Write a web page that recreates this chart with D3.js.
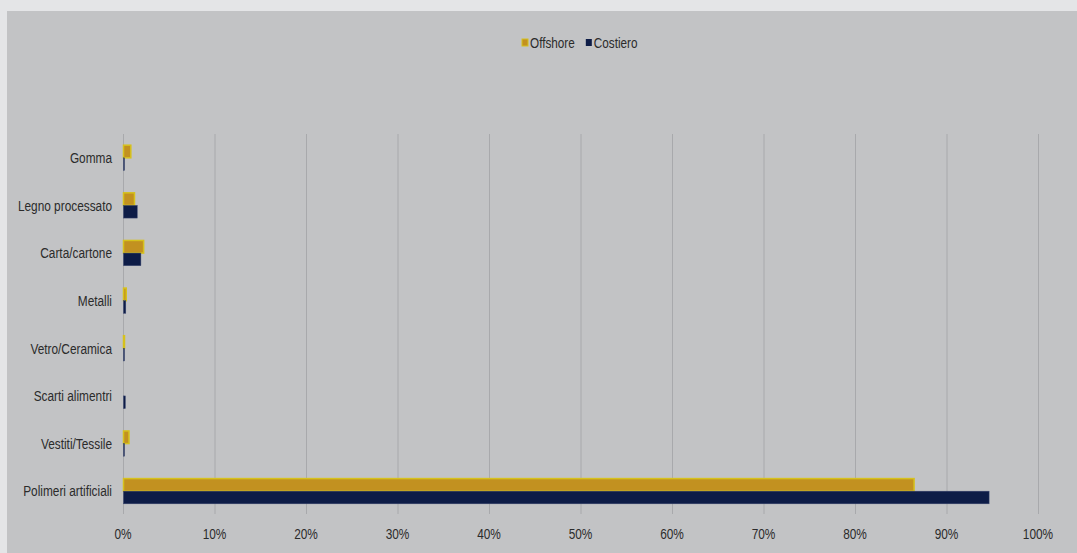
<!DOCTYPE html>
<html>
<head>
<meta charset="utf-8">
<script src="https://cdn.jsdelivr.net/npm/d3@7"></script>
<style>
  body { margin: 0; background: #e4e5e7; }
  svg { display: block; }
  text { font-family: "Liberation Sans", Arial, sans-serif; fill: #2b2b2b; }
</style>
</head>
<body>
<div id="chart"></div>
<script>
// categories, top to bottom
var categories = ["Gomma", "Legno processato", "Carta/cartone", "Metalli",
  "Vetro/Ceramica", "Scarti alimentri", "Vestiti/Tessile", "Polimeri artificiali"];
var series = ["Offshore", "Costiero"];
// percentages
var offshore = [0.8, 1.2, 2.2, 0.3, 0.1, 0, 0.6, 86.4];
var costiero = [0.1, 1.5, 1.9, 0.25, 0.1, 0.2, 0.1, 94.6];
var ticks = [0, 10, 20, 30, 40, 50, 60, 70, 80, 90, 100];

var colors = { Offshore: "#c29120", Costiero: "#0d1c47" };
var narrow = 0.79; // text looks like a condensed face

var W = 1077, H = 553;
var svg = d3.select("#chart").append("svg")
  .attr("width", W).attr("height", H);

// plot panel
svg.append("rect")
  .attr("x", 7).attr("y", 11)
  .attr("width", W - 7).attr("height", H - 11)
  .style("fill", "#c2c3c5");

var x = d3.scaleLinear().domain([0, 100]).range([123, 1038]);
var y = d3.scaleBand().domain(categories).range([134, 515]).paddingInner(0.47).paddingOuter(0.235);
var ySub = d3.scaleBand().domain(series).range([0, y.bandwidth()]);

// grid
svg.append("g").selectAll("line")
  .data(ticks)
  .enter().append("line")
  .attr("x1", function (d) { return x(d) + 0.5; })
  .attr("x2", function (d) { return x(d) + 0.5; })
  .attr("y1", 134).attr("y2", 514)
  .style("stroke", "#a8a9ac")
  .style("stroke-width", 1);

// bars
var rows = categories.map(function (c, i) {
  return { cat: c, vals: [
    { s: "Offshore", v: offshore[i] },
    { s: "Costiero", v: costiero[i] }
  ] };
});

var g = svg.append("g").selectAll(".row")
  .data(rows)
  .enter().append("g")
  .attr("class", "row")
  .attr("transform", function (d) { return "translate(0," + y(d.cat) + ")"; });

g.selectAll("rect")
  .data(function (d) { return d.vals.filter(function (e) { return e.v > 0; }); })
  .enter().append("rect")
  .attr("x", x(0) + 0.5)
  .attr("y", function (d) { return ySub(d.s); })
  .attr("width", function (d) { return Math.max(1, x(d.v) - x(0)); })
  .attr("height", ySub.bandwidth())
  .style("fill", function (d) { return colors[d.s]; })
  .style("stroke", function (d) { return d.s === "Offshore" ? "#d6c11c" : "#3a4670"; })
  .style("stroke-width", function (d) { return d.s === "Offshore" ? 1.5 : 0.5; });

// category labels
svg.append("g").selectAll("text")
  .data(categories)
  .enter().append("text")
  .attr("transform", function (d) {
    return "translate(112," + (y(d) + y.bandwidth() / 2) + ") scale(" + narrow + ",1)";
  })
  .attr("dy", "0.35em")
  .attr("text-anchor", "end")
  .style("font-size", "15px")
  .text(function (d) { return d; });

// x axis labels
svg.append("g").selectAll("text")
  .data(ticks)
  .enter().append("text")
  .attr("transform", function (d) { return "translate(" + x(d) + ",534) scale(" + narrow + ",1)"; })
  .attr("dy", "0.35em")
  .attr("text-anchor", "middle")
  .style("font-size", "15px")
  .text(function (d) { return d + "%"; });

// legend
var legend = svg.append("g").attr("transform", "translate(522,43)");
var lx = 0;
series.forEach(function (s) {
  legend.append("rect")
    .attr("x", lx).attr("y", -4)
    .attr("width", 6).attr("height", 7)
    .style("fill", colors[s])
    .style("stroke", s === "Offshore" ? "#d6c11c" : "none")
    .style("stroke-width", 1);
  var t = legend.append("text")
    .attr("transform", "translate(" + (lx + 8) + ",0) scale(0.84,1)")
    .attr("dy", "0.35em")
    .style("font-size", "14px")
    .text(s);
  lx += 8 + t.node().getComputedTextLength() * 0.84 + 11;
});
</script>
</body>
</html>
